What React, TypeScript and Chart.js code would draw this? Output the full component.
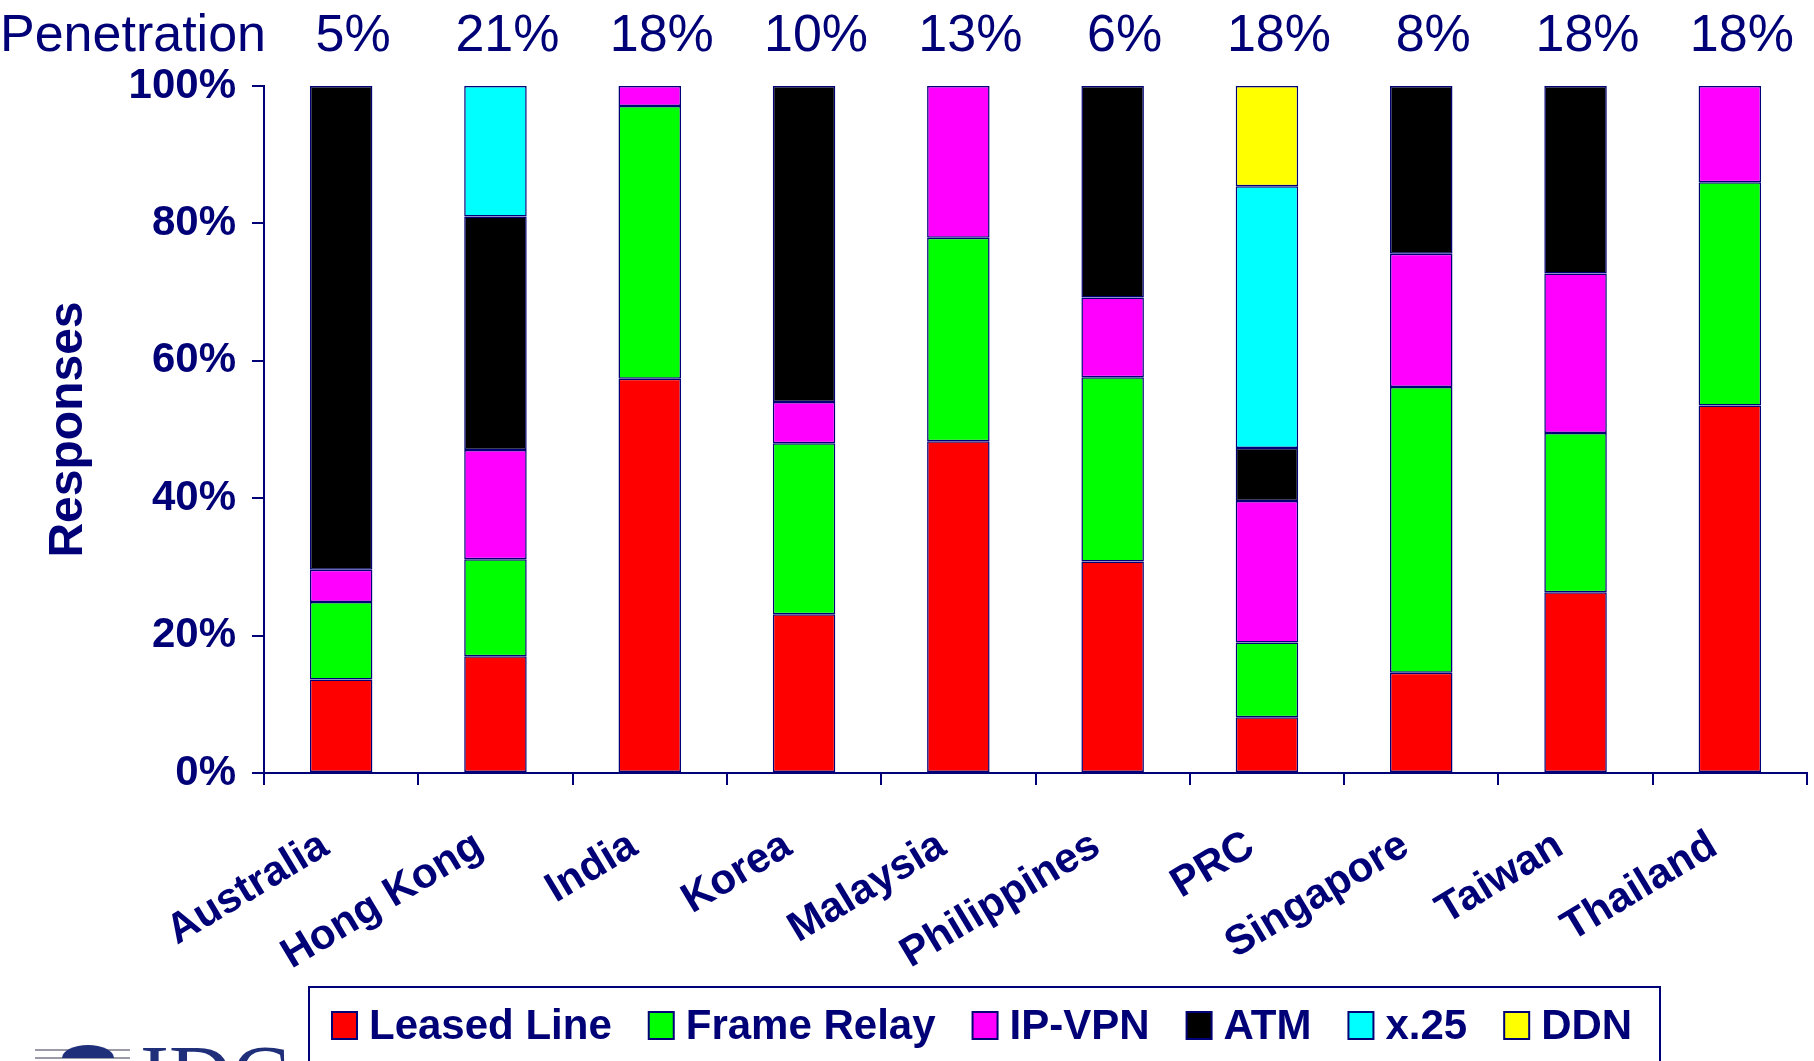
import React, { useEffect, useRef } from 'react';
import { Chart, registerables } from 'chart.js';

Chart.register(...registerables);

const categories = ['Australia', 'Hong Kong', 'India', 'Korea', 'Malaysia', 'Philippines', 'PRC', 'Singapore', 'Taiwan', 'Thailand'];
const penetration = ['5%', '21%', '18%', '10%', '13%', '6%', '18%', '8%', '18%', '18%'];
const leasedLine = [13.6, 17.0, 57.4, 23.1, 48.3, 30.8, 8.1, 14.6, 26.3, 53.5];
const frameRelay = [11.3, 14.1, 39.7, 24.9, 29.6, 26.8, 10.9, 41.6, 23.2, 32.5];
const ipVpn = [4.7, 15.9, 2.9, 6.0, 22.1, 11.6, 20.6, 19.4, 23.2, 14.0];
const atm = [70.4, 34.0, null, 46.0, null, 30.8, 7.7, 24.4, 27.3, null];
const x25 = [null, 19.0, null, null, null, null, 38.1, null, null, null];
const ddn = [null, null, null, null, null, null, 14.6, null, null, null];
const seriesNames = ['Leased Line', 'Frame Relay', 'IP-VPN', 'ATM', 'x.25', 'DDN'];
const seriesColors = ['#FF0000', '#00FF00', '#FF00FF', '#000000', '#00FFFF', '#FFFF00'];
const yTicks = [0, 20, 40, 60, 80, 100];

const NAVY = '#000077';
const FONT = '"Liberation Sans", Arial, sans-serif';

const overlayPlugin = {
  id: 'overlay',
  afterDraw(chart: any) {
    const ctx = chart.ctx;
    const xs = chart.scales.x;
    ctx.save();
    // Penetration row
    ctx.fillStyle = NAVY;
    ctx.font = `52px ${FONT}`;
    ctx.textBaseline = 'alphabetic';
    ctx.textAlign = 'left';
    ctx.fillText('Penetration', 0, 51);
    ctx.textAlign = 'center';
    penetration.forEach((p, i) => {
      ctx.fillText(p, xs.getPixelForValue(i) + 12, 51);
    });

    // Legend
    ctx.strokeStyle = NAVY;
    ctx.lineWidth = 2;
    ctx.strokeRect(309, 987, 1351, 120);
    ctx.font = `bold 42px ${FONT}`;
    ctx.textAlign = 'left';
    ctx.textBaseline = 'middle';
    let x = 332;
    chart.data.datasets.forEach((ds: any) => {
      ctx.fillStyle = ds.backgroundColor;
      ctx.fillRect(x, 1012, 25, 27);
      ctx.lineWidth = 2;
      ctx.strokeStyle = NAVY;
      ctx.strokeRect(x, 1012, 25, 27);
      ctx.fillStyle = NAVY;
      ctx.fillText(ds.label, x + 37, 1027);
      x += 37 + ctx.measureText(ds.label).width + 37;
    });

    // IDC logo (partially visible)
    ctx.strokeStyle = '#9a9aa8';
    ctx.lineWidth = 2;
    ctx.beginPath();
    ctx.moveTo(35, 1050); ctx.lineTo(130, 1050);
    ctx.moveTo(35, 1058); ctx.lineTo(130, 1058);
    ctx.stroke();
    ctx.fillStyle = '#1f2f7a';
    ctx.beginPath();
    ctx.ellipse(88, 1058, 26, 13, 0, Math.PI, 2 * Math.PI);
    ctx.fill();
    ctx.font = `87px "Liberation Serif", "Times New Roman", serif`;
    ctx.textBaseline = 'alphabetic';
    ctx.fillText('IDC', 140, 1105);
    ctx.restore();
  },
};

export default function App() {
  const ref = useRef<HTMLCanvasElement | null>(null);

  useEffect(() => {
    document.body.style.margin = '0';
    const canvas = ref.current;
    if (!canvas) return;
    const dataArrays = [leasedLine, frameRelay, ipVpn, atm, x25, ddn];
    const chart = new Chart(canvas, {
      type: 'bar',
      data: {
        labels: categories,
        datasets: dataArrays.map((d, i) => ({
          label: seriesNames[i],
          data: d,
          backgroundColor: seriesColors[i],
          borderColor: NAVY,
          borderWidth: 1.5,
          borderSkipped: false,
          barPercentage: 0.405,
          categoryPercentage: 1,
        })),
      },
      options: {
        animation: false,
        responsive: false,
        maintainAspectRatio: false,
        layout: { padding: { top: 86, right: 7, bottom: 88, left: 0 } },
        plugins: {
          legend: { display: false },
          tooltip: { enabled: false },
        },
        scales: {
          x: {
            stacked: true,
            grid: {
              display: true,
              offset: true,
              drawOnChartArea: false,
              drawTicks: true,
              tickLength: 12,
              color: NAVY,
              lineWidth: 2,
            },
            border: { display: true, color: NAVY, width: 2 },
            ticks: {
              autoSkip: false,
              maxRotation: 31,
              minRotation: 31,
              padding: 36,
              labelOffset: -16,
              color: NAVY,
              font: { family: FONT, size: 42, weight: 'bold' },
            },
            afterFit(scale: any) {
              scale.height = 200;
            },
          },
          y: {
            stacked: true,
            min: 0,
            max: 100,
            afterBuildTicks(scale: any) {
              scale.ticks = yTicks.map((v) => ({ value: v }));
            },
            grid: {
              display: true,
              drawOnChartArea: false,
              drawTicks: true,
              tickLength: 12,
              color: NAVY,
              lineWidth: 2,
            },
            border: { display: true, color: NAVY, width: 2 },
            ticks: {
              padding: 16,
              color: NAVY,
              font: { family: FONT, size: 42, weight: 'bold' },
              callback: (v: any) => `${v}%`,
            },
            title: {
              display: true,
              text: 'Responses',
              color: NAVY,
              padding: { top: 40, bottom: 0 },
              font: { family: FONT, size: 48, weight: 'bold' },
            },
            afterFit(scale: any) {
              scale.width = 264;
            },
          },
        },
      },
      plugins: [overlayPlugin],
    });
    return () => chart.destroy();
  }, []);

  return (
    <div style={{ width: 1814, height: 1061, position: 'relative', overflow: 'hidden', background: '#fff' }}>
      <canvas ref={ref} width={1814} height={1061} style={{ display: 'block', width: 1814, height: 1061 }} />
    </div>
  );
}
